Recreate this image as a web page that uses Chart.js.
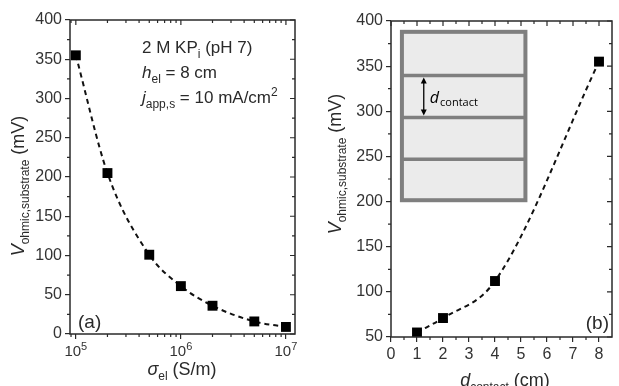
<!DOCTYPE html>
<html lang="en">
<head>
<meta charset="UTF-8">
<title>V ohmic substrate</title>
<script src="https://cdn.jsdelivr.net/npm/chart.js"></script>
<style>
  body { margin: 0; background: #fff; }
  #wrap { position: relative; width: 619px; height: 386px; }
  canvas { position: absolute; top: 0; }
</style>
</head>
<body>
<div id="wrap">
  <canvas id="chartA" width="310" height="386" style="left:0;width:310px;height:386px"></canvas>
  <canvas id="chartB" width="309" height="386" style="left:310px;width:309px;height:386px"></canvas>
</div>

<script>
// panel (a): conductivity of the substrate
const sigmaEl = [1e5, 2e5, 5e5, 1e6, 2e6, 5e6, 1e7];
const vOhmicA = [355, 205, 101, 61, 36, 16, 9];
const sigmaTicks = [1e5, 1e6, 1e7];

// panel (b): contact spacing
const dContact = [1, 2, 4, 8];
const vOhmicB = [55, 71, 112, 355];
const dTicks = [0, 1, 2, 3, 4, 5, 6, 7, 8];

const FONT = 'Liberation Sans, Arial, sans-serif';
const INK = '#2a2a2a';
const LABEL = '#333';

// draw a line of text made of pieces (italic / subscript / superscript)
function rich(ctx, parts, x, y, align) {
    const fontOf = p => (p.it ? 'italic ' : '') + p.size + 'px ' + FONT;
    let w = 0;
    parts.forEach(p => { ctx.font = fontOf(p); w += ctx.measureText(p.t).width; });
    let cx = align === 'center' ? x - w / 2 : x;
    ctx.textAlign = 'left';
    ctx.textBaseline = 'alphabetic';
    parts.forEach(p => {
        ctx.font = fontOf(p);
        const dy = p.sub ? 5 : (p.sup ? (p.up || -7) : 0);
        ctx.fillText(p.t, cx, y + dy);
        cx += ctx.measureText(p.t).width;
    });
}

// frame, mirrored ticks, minor ticks, titles and extra drawings
const framePlugin = {
    id: 'frame',
    afterDraw(chart, args, opts) {
        const ctx = chart.ctx;
        const a = chart.chartArea;
        const xs = chart.scales.x, ys = chart.scales.y;
        ctx.save();
        ctx.strokeStyle = INK;
        ctx.lineWidth = 1.5;
        ctx.strokeRect(a.left, a.top, a.right - a.left, a.bottom - a.top);

        ctx.lineWidth = 1.2;
        ctx.beginPath();
        xs.ticks.forEach(t => {
            const px = xs.getPixelForValue(t.value);
            ctx.moveTo(px, a.top); ctx.lineTo(px, a.top + 5);
        });
        ys.ticks.forEach(t => {
            const py = ys.getPixelForValue(t.value);
            ctx.moveTo(a.right, py); ctx.lineTo(a.right - 5, py);
        });
        opts.minorX.forEach(v => {
            if (v < xs.min || v > xs.max) return;
            const px = xs.getPixelForValue(v);
            ctx.moveTo(px, a.bottom); ctx.lineTo(px, a.bottom + 3);
            ctx.moveTo(px, a.top); ctx.lineTo(px, a.top + 3);
        });
        opts.minorY.forEach(v => {
            const py = ys.getPixelForValue(v);
            ctx.moveTo(a.left, py); ctx.lineTo(a.left - 3, py);
            ctx.moveTo(a.right, py); ctx.lineTo(a.right - 3, py);
        });
        ctx.stroke();

        ctx.fillStyle = INK;
        // y title (rotated)
        ctx.save();
        ctx.translate(opts.yTitle.x, opts.yTitle.y);
        ctx.rotate(-Math.PI / 2);
        rich(ctx, [
            { t: 'V', it: true, size: 18 },
            { t: 'ohmic,substrate', sub: true, size: 12 },
            { t: ' (mV)', size: 18 }
        ], 0, 0, 'center');
        ctx.restore();
        // x title
        rich(ctx, opts.xTitle.parts, opts.xTitle.x, opts.xTitle.y, 'center');
        // panel letter
        ctx.font = '19px ' + FONT;
        ctx.textAlign = opts.letter.align;
        ctx.fillText(opts.letter.t, opts.letter.x, opts.letter.y);

        if (opts.extra) opts.extra(ctx, chart);
        ctx.restore();
    }
};

function lineSet(xs, ys) {
    return {
        data: xs.map((x, i) => ({ x: x, y: ys[i] })),
        showLine: true,
        borderColor: '#111',
        borderWidth: 2,
        borderDash: [5, 4],
        cubicInterpolationMode: 'monotone',
        pointStyle: 'rect',
        pointRadius: 7,
        pointBackgroundColor: '#000',
        pointBorderColor: '#000',
        pointBorderWidth: 0
    };
}

const tickFont = { family: FONT, size: 16 };
const gridOut = { drawOnChartArea: false, drawTicks: true, tickLength: 5, color: INK, lineWidth: 1.2 };

// minor tick values
const logMinor = [];
[4, 5, 6, 7].forEach(n => { for (let m = 2; m <= 9; m++) logMinor.push(m * Math.pow(10, n)); });
const yMinorA = [25, 75, 125, 175, 225, 275, 325, 375];
const yMinorB = [75, 125, 175, 225, 275, 325, 375];
const xMinorB = [0.5, 1.5, 2.5, 3.5, 4.5, 5.5, 6.5, 7.5];

new Chart(document.getElementById('chartA'), {
    type: 'scatter',
    data: { datasets: [lineSet(sigmaEl, vOhmicA)] },
    options: {
        responsive: false,
        animation: false,
        layout: { padding: { left: 0, right: 15, top: 20, bottom: 0 } },
        scales: {
            x: {
                type: 'logarithmic',
                min: 8.8e4,
                max: 1.22e7,
                afterBuildTicks: s => { s.ticks = sigmaTicks.map(v => ({ value: v })); },
                afterFit: s => { s.height = 52; },
                grid: gridOut,
                border: { display: false },
                ticks: { display: false }
            },
            y: {
                min: 0, max: 400,
                ticks: { stepSize: 50, color: LABEL, font: tickFont, padding: 3 },
                afterFit: s => { s.width = 70; },
                grid: gridOut,
                border: { display: false }
            }
        },
        plugins: {
            legend: { display: false },
            tooltip: { enabled: false },
            frame: {
                minorX: logMinor,
                minorY: yMinorA,
                yTitle: { x: 24, y: 186 },
                xTitle: {
                    x: 182, y: 375,
                    parts: [
                        { t: 'σ', it: true, size: 18 },
                        { t: 'el', sub: true, size: 12 },
                        { t: ' (S/m)', size: 18 }
                    ]
                },
                letter: { t: '(a)', x: 78, y: 328, align: 'left' },
                extra: (ctx, chart) => {
                    // decade labels 10^n under the log axis
                    const xs = chart.scales.x, a = chart.chartArea;
                    ctx.fillStyle = LABEL;
                    sigmaTicks.forEach(v => {
                        const n = Math.round(Math.log10(v));
                        rich(ctx, [
                            { t: '10', size: 15 },
                            { t: String(n), sup: true, up: -6, size: 11 }
                        ], xs.getPixelForValue(v), a.bottom + 22, 'center');
                    });
                    ctx.fillStyle = INK;
                    rich(ctx, [
                        { t: '2 M KP', size: 17 },
                        { t: 'i', sub: true, size: 12 },
                        { t: ' (pH 7)', size: 17 }
                    ], 142, 53);
                    rich(ctx, [
                        { t: 'h', it: true, size: 17 },
                        { t: 'el', sub: true, size: 12 },
                        { t: ' = 8 cm', size: 17 }
                    ], 142, 78);
                    rich(ctx, [
                        { t: 'j', it: true, size: 17 },
                        { t: 'app,s', sub: true, size: 12 },
                        { t: ' = 10 mA/cm', size: 17 },
                        { t: '2', sup: true, size: 12 }
                    ], 142, 103);
                }
            }
        }
    },
    plugins: [framePlugin]
});

new Chart(document.getElementById('chartB'), {
    type: 'scatter',
    data: { datasets: [lineSet(dContact, vOhmicB)] },
    options: {
        responsive: false,
        animation: false,
        layout: { padding: { left: 0, right: 3, top: 21, bottom: 0 } },
        scales: {
            x: {
                min: 0, max: 8.5,
                afterBuildTicks: s => { s.ticks = dTicks.map(v => ({ value: v })); },
                afterFit: s => { s.height = 49; },
                grid: gridOut,
                border: { display: false },
                ticks: { color: LABEL, font: tickFont, maxRotation: 0, padding: 3 }
            },
            y: {
                min: 50, max: 400,
                ticks: { stepSize: 50, color: LABEL, font: tickFont, padding: 3 },
                afterFit: s => { s.width = 81; },
                grid: gridOut,
                border: { display: false }
            }
        },
        plugins: {
            legend: { display: false },
            tooltip: { enabled: false },
            frame: {
                minorX: xMinorB,
                minorY: yMinorB,
                yTitle: { x: 31, y: 164 },
                xTitle: {
                    x: 195, y: 386,
                    parts: [
                        { t: 'd', it: true, size: 18 },
                        { t: 'contact', sub: true, size: 12 },
                        { t: ' (cm)', size: 18 }
                    ]
                },
                letter: { t: '(b)', x: 299, y: 329, align: 'right' },
                extra: (ctx, chart) => {
                    // inset sketch of the contact grid, placed with the data scales
                    const xs = chart.scales.x, ys = chart.scales.y;
                    const L = xs.getPixelForValue(0.42), R = xs.getPixelForValue(5.17);
                    const T = ys.getPixelForValue(388), B = ys.getPixelForValue(201.5);
                    ctx.fillStyle = '#ebebeb';
                    ctx.fillRect(L, T, R - L, B - T);
                    ctx.strokeStyle = '#7f7f7f';
                    ctx.lineWidth = 4;
                    ctx.strokeRect(L, T, R - L, B - T);
                    ctx.lineWidth = 3.5;
                    const bars = [339.5, 293, 247];
                    ctx.beginPath();
                    bars.forEach(v => {
                        const py = ys.getPixelForValue(v);
                        ctx.moveTo(L, py); ctx.lineTo(R, py);
                    });
                    ctx.stroke();
                    // double arrow between the first two bars
                    const ax = xs.getPixelForValue(1.26);
                    const y1 = ys.getPixelForValue(339.5) + 2, y2 = ys.getPixelForValue(293) - 2;
                    ctx.strokeStyle = '#000';
                    ctx.fillStyle = '#000';
                    ctx.lineWidth = 1.3;
                    ctx.beginPath();
                    ctx.moveTo(ax, y1 + 4); ctx.lineTo(ax, y2 - 4);
                    ctx.stroke();
                    ctx.beginPath();
                    ctx.moveTo(ax, y1); ctx.lineTo(ax - 3, y1 + 6); ctx.lineTo(ax + 3, y1 + 6); ctx.closePath();
                    ctx.moveTo(ax, y2); ctx.lineTo(ax - 3, y2 - 6); ctx.lineTo(ax + 3, y2 - 6); ctx.closePath();
                    ctx.fill();
                    const ty = (y1 + y2) / 2 + 6;
                    ctx.font = 'italic 16px Open Sans, sans-serif';
                    ctx.textAlign = 'left';
                    ctx.fillText('d', ax + 6, ty);
                    const dw = ctx.measureText('d').width;
                    ctx.font = '11px Open Sans, sans-serif';
                    ctx.fillText('contact', ax + 6 + dw + 1, ty + 3);
                }
            }
        }
    },
    plugins: [framePlugin]
});
</script>
</body>
</html>
